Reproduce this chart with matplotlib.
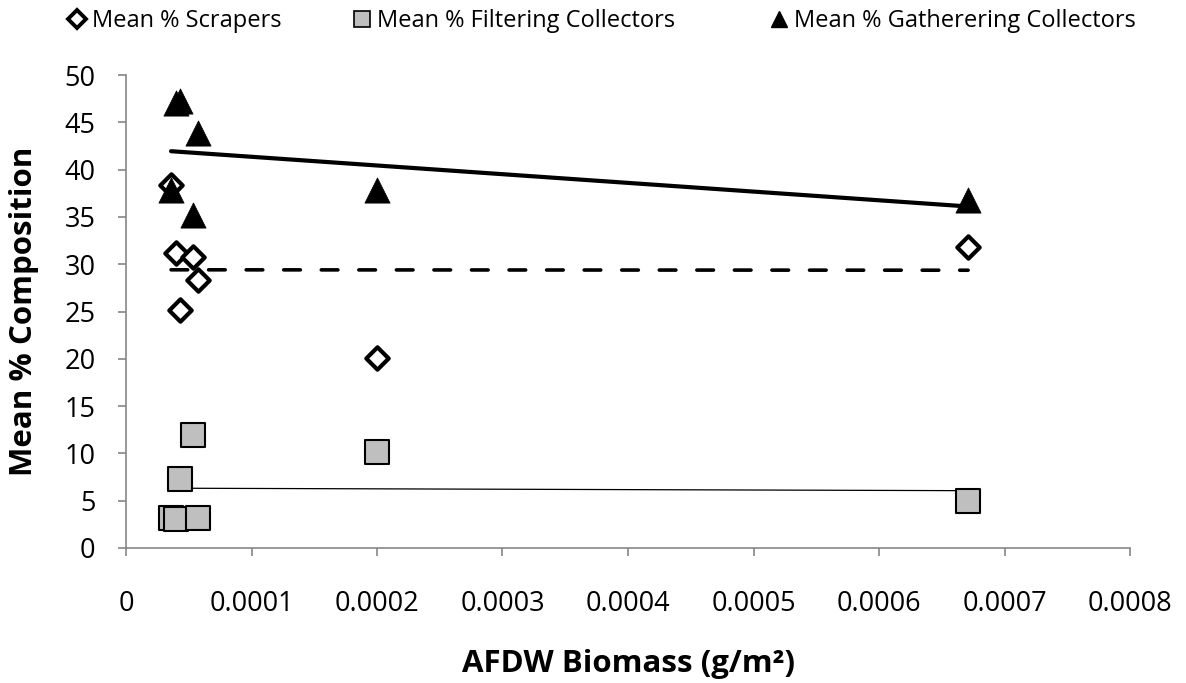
import numpy as np
import matplotlib
matplotlib.use("Agg")
import matplotlib.pyplot as plt
from matplotlib.lines import Line2D

# AFDW biomass (g/m2) per site
biomass = [0.0000359, 0.0000398, 0.0000430, 0.0000534, 0.0000574, 0.000200, 0.000671]

# mean % composition per functional feeding group
scrapers = [38.4, 31.2, 25.2, 30.8, 28.3, 20.1, 31.8]
filtering = [3.2, 3.1, 7.3, 11.9, 3.2, 10.2, 5.0]
gathering = [37.8, 47.0, 47.3, 35.2, 43.9, 37.8, 36.8]

labels = ["Mean % Scrapers", "Mean % Filtering Collectors", "Mean % Gatherering Collectors"]
x_ticks = [0, 0.0001, 0.0002, 0.0003, 0.0004, 0.0005, 0.0006, 0.0007, 0.0008]
x_tick_labels = ["0", "0.0001", "0.0002", "0.0003", "0.0004", "0.0005", "0.0006", "0.0007", "0.0008"]

plt.rcParams["font.family"] = ["Open Sans", "DejaVu Sans"]
grey = "#868686"
W, H = 1186, 683

fig = plt.figure(figsize=(W / 100, H / 100), dpi=100)
ax = fig.add_axes([126 / W, 1 - 548 / H, (1130 - 126) / W, (548 - 75) / H])

x = np.array(biomass)

def trend(values, lw, dashes=None):
    # linear least-squares trendline over the data range
    k, b = np.polyfit(x, np.array(values), 1)
    xs = np.array([x.min(), x.max()])
    line, = ax.plot(xs, k * xs + b, color="black", linewidth=lw, zorder=2,
                    solid_capstyle="round")
    if dashes:
        line.set_dashes(dashes)
        line.set_dash_capstyle("round")

trend(scrapers, 2.6, dashes=(4.6, 5.8))
trend(filtering, 0.9)
trend(gathering, 3.0)

ax.scatter(x, filtering, marker="s", s=300, facecolor="#bfbfbf", edgecolor="black",
           linewidth=1.5, zorder=3)
ax.scatter(x, scrapers, marker="D", s=130, facecolor="white", edgecolor="black",
           linewidth=3, zorder=4)
ax.scatter(x, gathering, marker="^", s=330, facecolor="black", edgecolor="black",
           linewidth=0.5, zorder=5)

ax.set_xlim(0, 0.0008)
ax.set_ylim(0, 50)
ax.set_xticks(x_ticks)
ax.set_xticklabels(x_tick_labels)
ax.set_yticks(range(0, 51, 5))

for side in ["top", "right"]:
    ax.spines[side].set_visible(False)
for side in ["left", "bottom"]:
    ax.spines[side].set_color(grey)
    ax.spines[side].set_linewidth(1.2)
ax.tick_params(axis="both", direction="out", length=6, width=1.2, color=grey,
               labelsize=19.5)
ax.tick_params(axis="x", pad=24)
ax.tick_params(axis="y", pad=16)

fig.text(628 / W, 1 - 664 / H, "AFDW Biomass (g/m²)", fontsize=22.5,
         fontweight="bold", ha="center", va="center")
fig.text(24 / W, 1 - 311 / H, "Mean % Composition", fontsize=22.5,
         fontweight="bold", ha="center", va="center", rotation=90)

handles = [
    Line2D([], [], linestyle="none", marker="D", markersize=9, markerfacecolor="white",
           markeredgecolor="black", markeredgewidth=2.8),
    Line2D([], [], linestyle="none", marker="s", markersize=11, markerfacecolor="#bfbfbf",
           markeredgecolor="black", markeredgewidth=1.2),
    Line2D([], [], linestyle="none", marker="^", markersize=12, markerfacecolor="black",
           markeredgecolor="black"),
]
marker_x = [77, 362, 779]
for h, lab, mx in zip(handles, labels, marker_x):
    fig.legend([h], [lab], loc="center left",
               bbox_to_anchor=((mx - 11.8) / W, 1 - 21 / H),
               frameon=False, fontsize=17, handlelength=1.0, handletextpad=0.15,
               borderpad=0, borderaxespad=0)

fig.savefig("out.png", dpi=100)
